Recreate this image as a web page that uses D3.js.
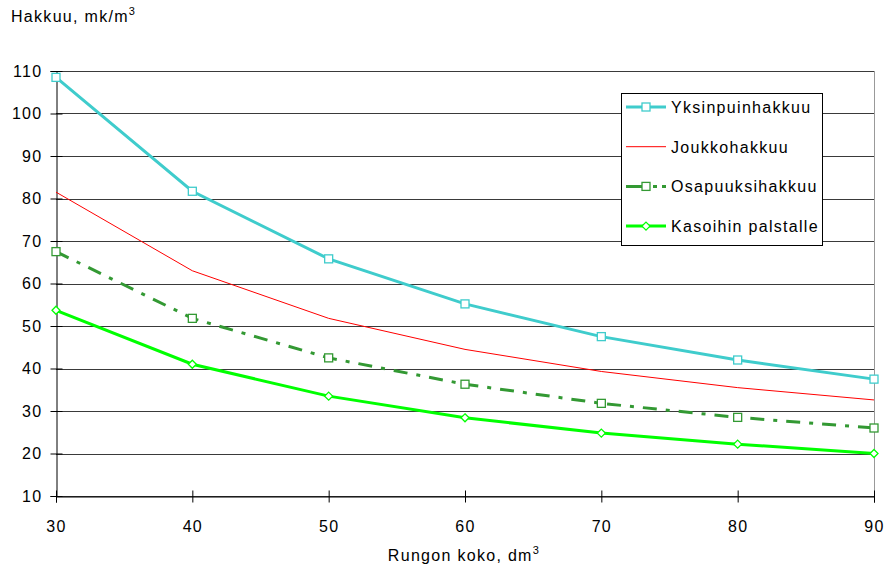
<!DOCTYPE html>
<html>
<head>
<meta charset="utf-8">
<script src="https://cdn.jsdelivr.net/npm/d3@7"></script>
<style>
  body { margin: 0; background: #fff; }
  text { font-family: "Liberation Sans", Arial, sans-serif; fill: #000; letter-spacing: 1.3px; }
</style>
</head>
<body>
<div id="chart"></div>
<script>
const sizes = [30, 40, 50, 60, 70, 80, 90];
const yksinpuin = [108.5, 81.7, 65.8, 55.2, 47.5, 42.0, 37.5];
const joukko = [81.5, 63.0, 51.8, 44.5, 39.3, 35.5, 32.6];
const osapuu = [67.5, 51.8, 42.5, 36.3, 31.8, 28.5, 26.0];
const kasoihin = [53.7, 41.0, 33.5, 28.4, 24.8, 22.2, 20.0];
const yTicks = [10, 20, 30, 40, 50, 60, 70, 80, 90, 100, 110];

const series = [
  { name: "Yksinpuinhakkuu", values: yksinpuin, color: "#3fcccc", width: 3, dash: null, marker: "square" },
  { name: "Joukkohakkuu", values: joukko, color: "#ff0000", width: 1, dash: null, marker: null },
  { name: "Osapuuksihakkuu", values: osapuu, color: "#339933", width: 3, dash: "14,9,4,9", marker: "square" },
  { name: "Kasoihin palstalle", values: kasoihin, color: "#00ff00", width: 3, dash: null, marker: "diamond" }
];

const W = 888, H = 569;
const svg = d3.select("#chart").append("svg").attr("width", W).attr("height", H);

const x = d3.scaleLinear().domain([30, 90]).range([56, 874]);
const y = d3.scaleLinear().domain([10, 110]).range([496, 71]);

// grid
svg.append("g").selectAll("line").data(yTicks).join("line")
  .attr("x1", x(30)).attr("x2", x(90))
  .attr("y1", d => Math.round(y(d)) + 0.5).attr("y2", d => Math.round(y(d)) + 0.5)
  .attr("stroke", "#3a3a3a").attr("stroke-width", 1);

// right border of plot
svg.append("line").attr("x1", x(90) + 0.5).attr("x2", x(90) + 0.5)
  .attr("y1", y(110)).attr("y2", y(10)).attr("stroke", "#999");

// y axis
const yAxis = svg.append("g").attr("transform", `translate(${x(30) + 0.5},0)`)
  .call(d3.axisLeft(y).tickValues(yTicks).tickSize(6).tickPadding(10).tickFormat(d3.format("d")));
yAxis.select(".domain").attr("stroke", "#000");
yAxis.selectAll(".tick line").attr("x2", 6).attr("x1", -6).attr("stroke", "#000");
yAxis.selectAll("text").style("font-size", "16px").attr("x", -14);

// x axis
const xAxis = svg.append("g").attr("transform", `translate(0,${Math.round(y(10)) + 0.5})`)
  .call(d3.axisBottom(x).tickValues(sizes).tickSize(6).tickPadding(18).tickFormat(d3.format("d")));
xAxis.select(".domain").attr("stroke", "#000");
xAxis.selectAll(".tick line").attr("y1", -6).attr("y2", 6).attr("stroke", "#000");
xAxis.selectAll("text").style("font-size", "16px");

// lines
const line = d3.line().x((d, i) => x(sizes[i])).y(d => y(d));
series.forEach(s => {
  svg.append("path").datum(s.values)
    .attr("d", line).attr("fill", "none")
    .attr("stroke", s.color).attr("stroke-width", s.width)
    .attr("stroke-dasharray", s.dash);
});

function drawMarker(g, type, cx, cy, color) {
  if (type === "square") {
    g.append("rect").attr("x", cx - 4).attr("y", cy - 4).attr("width", 8).attr("height", 8)
      .attr("fill", "#fff").attr("stroke", color).attr("stroke-width", 1.3);
  } else if (type === "diamond") {
    g.append("path").attr("d", `M${cx},${cy - 4}L${cx + 4},${cy}L${cx},${cy + 4}L${cx - 4},${cy}Z`)
      .attr("fill", "#fff").attr("stroke", color).attr("stroke-width", 1.3);
  }
}

series.forEach(s => {
  if (!s.marker) return;
  const g = svg.append("g");
  s.values.forEach((v, i) => drawMarker(g, s.marker, x(sizes[i]), y(v), s.color));
});

// legend
const lg = svg.append("g");
lg.append("rect").attr("x", 621.5).attr("y", 93.5).attr("width", 201).attr("height", 152)
  .attr("fill", "#fff").attr("stroke", "#000").attr("stroke-width", 1);
series.forEach((s, i) => {
  const cy = 107 + i * 39.7;
  lg.append("line").attr("x1", 626).attr("x2", 666).attr("y1", cy).attr("y2", cy)
    .attr("stroke", s.color).attr("stroke-width", s.width)
    .attr("stroke-dasharray", s.dash ? "22,5,4,5" : null);
  drawMarker(lg, s.marker, 646, cy, s.color);
  lg.append("text").attr("x", 671).attr("y", cy + 6).style("font-size", "16px").text(s.name);
});

// titles
const yt = svg.append("text").attr("x", 11).attr("y", 22).style("font-size", "16px");
yt.append("tspan").text("Hakkuu, mk/m");
yt.append("tspan").attr("dy", -7).style("font-size", "11px").text("3");

const xt = svg.append("text").attr("x", 464).attr("y", 561).attr("text-anchor", "middle").style("font-size", "16px");
xt.append("tspan").text("Rungon koko, dm");
xt.append("tspan").attr("dy", -7).style("font-size", "11px").text("3");
</script>
</body>
</html>
